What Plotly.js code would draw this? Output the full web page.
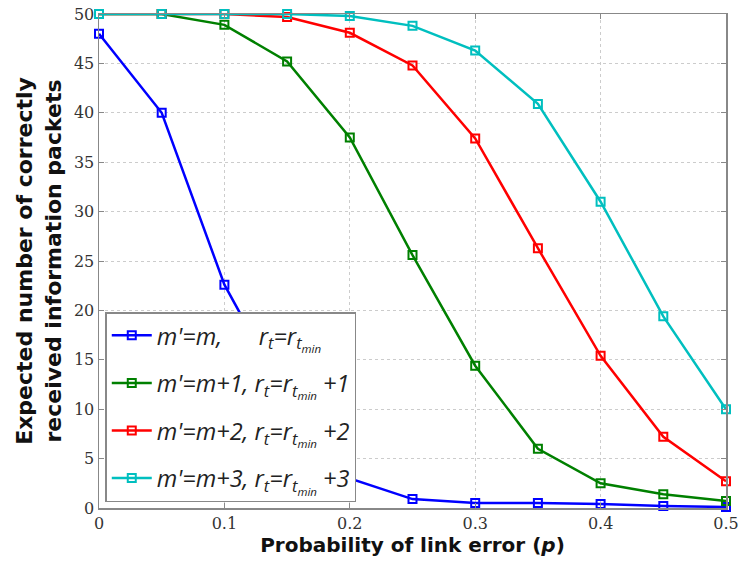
<!DOCTYPE html>
<html>
<head>
<meta charset="utf-8">
<script src="https://cdn.plot.ly/plotly-3.0.1.min.js"></script>
<style>html,body{margin:0;padding:0;background:#fff;}#chart{width:740px;height:573px;}</style>
</head>
<body>
<div id="chart"></div>
<script>
const p = [0, 0.05, 0.1, 0.15, 0.2, 0.25, 0.3, 0.35, 0.4, 0.45, 0.5];
const seriesM0 = [48.0, 40.0, 22.6, 11.0, 3.0, 0.9, 0.5, 0.5, 0.4, 0.2, 0.1];
const seriesM1 = [50.0, 50.0, 48.9, 45.2, 37.5, 25.6, 14.4, 6.0, 2.5, 1.4, 0.7];
const seriesM2 = [50.0, 50.0, 50.0, 49.7, 48.1, 44.8, 37.4, 26.3, 15.4, 7.2, 2.7];
const seriesM3 = [50.0, 50.0, 50.0, 50.0, 49.8, 48.8, 46.3, 40.9, 31.0, 19.4, 10.0];
const names = [
  "<i>m'=m,      r<sub>t</sub>=r<sub>t<sub>min</sub></sub></i>",
  "<i>m'=m+1, r<sub>t</sub>=r<sub>t<sub>min</sub></sub> +1</i>",
  "<i>m'=m+2, r<sub>t</sub>=r<sub>t<sub>min</sub></sub> +2</i>",
  "<i>m'=m+3, r<sub>t</sub>=r<sub>t<sub>min</sub></sub> +3</i>"
];
const colors = ['#0000ff', '#008000', '#ff0000', '#00bfbf'];
const xTicks = [0, 0.1, 0.2, 0.3, 0.4, 0.5];
const xTickText = ['0', '0.1', '0.2', '0.3', '0.4', '0.5'];
const yTicks = [0, 5, 10, 15, 20, 25, 30, 35, 40, 45, 50];

const all = [seriesM0, seriesM1, seriesM2, seriesM3];
const traces = all.map((ys, i) => ({
  x: p, y: ys, type: 'scatter', mode: 'lines+markers', name: names[i],
  legendgroup: 'g' + i,
  line: {color: colors[i], width: 2.5},
  marker: {symbol: 'square-open', size: 8, color: colors[i], line: {width: 2, color: colors[i]}},
  cliponaxis: false
}));

const layout = {
  width: 740, height: 573,
  margin: {l: 99, r: 14, t: 14, b: 65},
  paper_bgcolor: '#fff', plot_bgcolor: '#fff',
  showlegend: true,
  legend: {
    x: 0.01, y: 0.012, xanchor: 'left', yanchor: 'bottom',
    bgcolor: '#fff', bordercolor: '#888', borderwidth: 1.5,
    font: {family: 'Open Sans, sans-serif', size: 23.5, color: '#222'},
    itemwidth: 40, tracegroupgap: 14
  },
  xaxis: {
    range: [0, 0.5], tickvals: xTicks, ticktext: xTickText,
    showgrid: true, gridcolor: '#cccccc', griddash: 'dot', gridwidth: 1,
    zeroline: false, showline: true, linecolor: '#888', linewidth: 1.5, mirror: 'ticks',
    ticks: 'inside', ticklen: 5, tickcolor: '#888',
    tickfont: {family: 'DejaVu Serif, serif', size: 16, color: '#333'},
    title: {text: 'Probability of link error (<i>p</i>)', standoff: 6,
      font: {family: 'DejaVu Sans, sans-serif', size: 20, color: '#111', weight: 'bold'}}
  },
  yaxis: {
    range: [0, 50], tickvals: yTicks,
    showgrid: true, gridcolor: '#cccccc', griddash: 'dot', gridwidth: 1,
    zeroline: false, showline: true, linecolor: '#888', linewidth: 1.5, mirror: 'ticks',
    ticks: 'inside', ticklen: 5, tickcolor: '#888',
    tickfont: {family: 'DejaVu Serif, serif', size: 16, color: '#333'},
    title: {text: 'Expected number of correctly<br>received information packets', standoff: 6,
      font: {family: 'DejaVu Sans, sans-serif', size: 22, color: '#111', weight: 'bold'}}
  }
};

Plotly.newPlot('chart', traces, layout, {displayModeBar: false, staticPlot: true});
</script>
</body>
</html>
